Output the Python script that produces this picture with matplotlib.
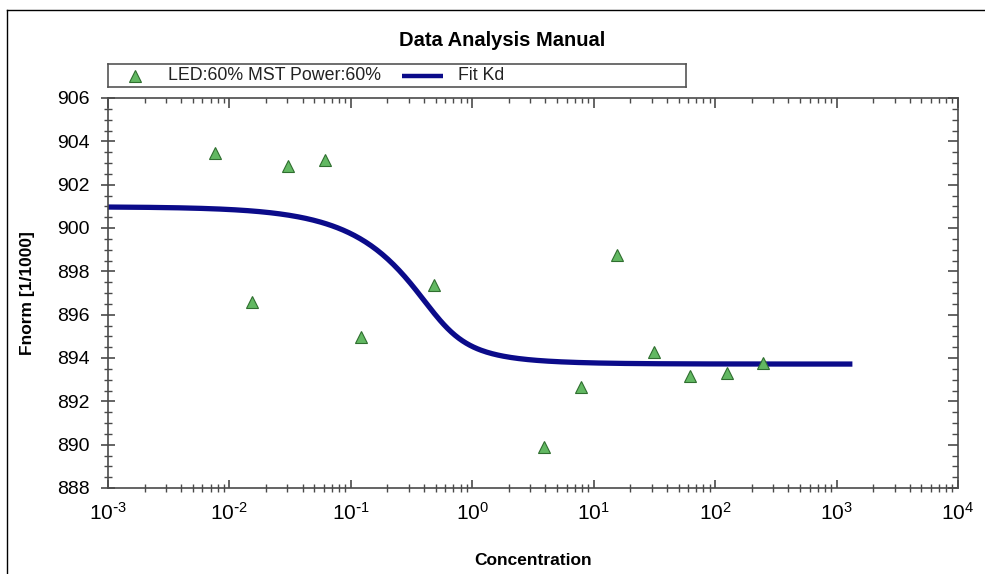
import numpy as np
import matplotlib
matplotlib.use("Agg")
import matplotlib.pyplot as plt
from matplotlib.lines import Line2D

plt.rcParams['font.family'] = ['Liberation Sans', 'DejaVu Sans']
plt.rcParams['axes.unicode_minus'] = False

# measured points (dilution series, top concentration 250)
concentration = [0.00763, 0.0153, 0.0305, 0.061, 0.122, 0.488,
                 3.91, 7.81, 15.6, 31.3, 62.5, 125, 250]
fnorm = [903.44, 896.60, 902.84, 903.15, 894.96, 897.36,
         889.87, 892.65, 898.75, 894.29, 893.16, 893.31, 893.77]

# Kd fit parameters
kd = 0.07
target_conc = 0.5
unbound = 900.98
bound = 893.72
fit_range = (1e-3, 1.35e3)

x_decades = [-3, -2, -1, 0, 1, 2, 3, 4]
series_label = "LED:60% MST Power:60%"
fit_label = "Fit Kd"


def kd_model(c):
    # quadratic Kd model (ligand depletion)
    s = c + target_conc + kd
    frac = (s - np.sqrt(s**2 - 4 * c * target_conc)) / (2 * target_conc)
    return unbound + (bound - unbound) * frac


def decade_label(e):
    exp = r"\text{-}" + str(-e) if e < 0 else str(e)
    return r"$\mathdefault{10^{%s}}$" % exp


W, H = 985, 574
fig = plt.figure(figsize=(W / 100, H / 100), dpi=100)
ax = fig.add_axes([108 / W, 1 - 488 / H, 850 / W, 390 / H])

green = '#62b862'
edge = '#2f6e2f'
navy = '#0b0b8a'
spine_c = '#4a4a4a'

xfit = np.logspace(np.log10(fit_range[0]), np.log10(fit_range[1]), 400)
ax.plot(xfit, kd_model(xfit), color=navy, lw=3.8, solid_capstyle='butt', zorder=2)
ax.plot(concentration, fnorm, '^', ms=8.5, mfc=green, mec=edge, mew=0.8, zorder=3)

ax.set_xscale('log')
ax.set_xlim(1e-3, 1e4)
ax.set_ylim(888, 906)
ax.set_xticks([10.0**e for e in x_decades], [decade_label(e) for e in x_decades])
ax.set_yticks(np.arange(888, 907, 2))
ax.yaxis.set_minor_locator(matplotlib.ticker.MultipleLocator(0.5))
ax.xaxis.set_minor_locator(matplotlib.ticker.LogLocator(base=10, subs=np.arange(2, 10)))
ax.xaxis.set_minor_formatter(matplotlib.ticker.NullFormatter())

for s in ax.spines.values():
    s.set_color(spine_c)
    s.set_linewidth(1.2)

ax.tick_params(axis='x', which='major', direction='in', length=6, width=1.2,
               color=spine_c, labelsize=15, pad=10, top=False)
ax.tick_params(axis='x', which='minor', direction='inout', length=6, width=1,
               color=spine_c, top=False)
ax.tick_params(axis='y', which='major', direction='inout', length=10, width=1.2,
               color=spine_c, labelsize=14, pad=8, right=False)
ax.tick_params(axis='y', which='minor', direction='inout', length=6, width=1,
               color=spine_c, right=False)

# top and right ticks pointing inward
top = ax.secondary_xaxis('top')
top.set_xscale('log')
top.xaxis.set_minor_locator(matplotlib.ticker.LogLocator(base=10, subs=np.arange(2, 10)))
top.xaxis.set_minor_formatter(matplotlib.ticker.NullFormatter())
top.tick_params(which='major', direction='in', length=7, width=1.2, color=spine_c, labeltop=False)
top.tick_params(which='minor', direction='in', length=3.5, width=1, color=spine_c)
top.spines['top'].set_visible(False)
right = ax.secondary_yaxis('right')
right.set_yticks(np.arange(888, 907, 2))
right.yaxis.set_minor_locator(matplotlib.ticker.MultipleLocator(0.5))
right.tick_params(which='major', direction='in', length=7, width=1.2, color=spine_c, labelright=False)
right.tick_params(which='minor', direction='in', length=4, width=1, color=spine_c)
right.spines['right'].set_visible(False)

ax.set_xlabel("Concentration", fontsize=12.5, fontweight='bold')
ax.set_ylabel("Fnorm [1/1000]", fontsize=12.5, fontweight='bold')
ax.xaxis.set_label_coords(0.5, -(553 - 488) / 390)
ax.yaxis.set_label_coords((35 - 108) / 850, 0.5)

fig.text(502 / W, 1 - 40 / H, "Data Analysis Manual", ha='center', va='center',
         fontsize=14.5, fontweight='bold')

# legend box
lg = fig.add_axes([108 / W, 1 - 87 / H, 578 / W, 23 / H])
lg.set_xlim(0, 578)
lg.set_ylim(0, 23)
lg.set_xticks([])
lg.set_yticks([])
for s in lg.spines.values():
    s.set_color('#555555')
    s.set_linewidth(1.2)
lg.plot([27], [11.5], '^', ms=8.5, mfc=green, mec=edge, mew=0.8)
lg.text(60, 11.5, series_label, va='center', ha='left', fontsize=12.8, color='#222222')
lg.plot([294, 335], [11.5, 11.5], color=navy, lw=3.2, solid_capstyle='butt')
lg.text(350, 11.5, fit_label, va='center', ha='left', fontsize=12.8, color='#222222')

# outer frame (top and left edges)
fig.add_artist(Line2D([7 / W, 1], [1 - 10 / H, 1 - 10 / H], color='black', lw=1))
fig.add_artist(Line2D([7 / W, 7 / W], [0, 1 - 10 / H], color='black', lw=1))

fig.savefig("out.png", dpi=100)
